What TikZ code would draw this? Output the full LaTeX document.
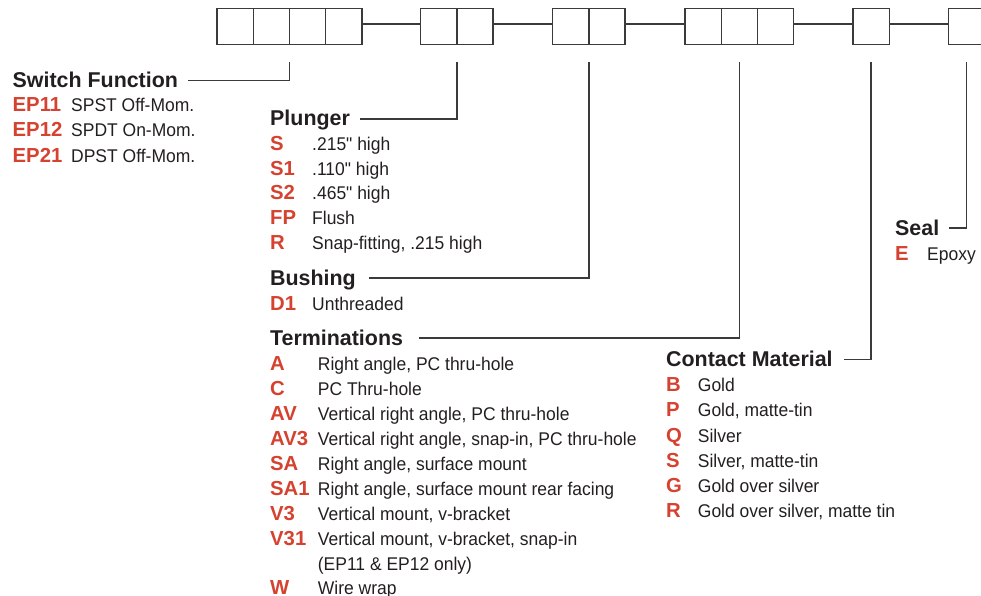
\documentclass[tikz,border=0pt]{standalone}
\usepackage{fontspec}
\setmainfont{Liberation Sans}
\newfontfamily\descfont{Liberation Sans}[FakeStretch=0.95, Ligatures=TeXOff]
\definecolor{ink}{RGB}{35,31,32}
\definecolor{codered}{RGB}{214,66,48}
\definecolor{linec}{RGB}{58,58,58}
\begin{document}
\begin{tikzpicture}[x=1pt,y=-1pt,
  box/.style={draw=linec, line width=1.4pt, minimum width=36.2pt, minimum height=35.6pt, inner sep=0pt, outer sep=0pt, anchor=north west},
  lead/.style={draw=linec, line width=1.3pt},
  head/.style={anchor=base west, inner sep=0pt, font=\fontsize{21.4}{24}\selectfont\bfseries, text=ink},
  code/.style={anchor=base west, inner sep=0pt, font=\fontsize{20.3}{24}\selectfont\bfseries, text=codered},
  desc/.style={anchor=base west, inner sep=0pt, font=\descfont\fontsize{18.4}{21}\selectfont, text=ink}]
\useasboundingbox (0,0) rectangle (981,596);

% ---- boxes ----
\node[box] (b1a) at (217,8.7) {};
\node[box] (b1b) at (b1a.north east) {};
\node[box] (b1c) at (b1b.north east) {};
\node[box] (b1d) at (b1c.north east) {};
\node[box] (b2a) at (420.7,8.7) {};
\node[box] (b2b) at (b2a.north east) {};
\node[box] (b3a) at (552.7,8.7) {};
\node[box] (b3b) at (b3a.north east) {};
\node[box] (b4a) at (685,8.7) {};
\node[box] (b4b) at (b4a.north east) {};
\node[box] (b4c) at (b4b.north east) {};
\node[box] (b5a) at (853,8.7) {};
\node[box] (b6a) at (948.5,8.7) {};

\draw[lead] ([yshift=2.5pt]b1d.east) -- ([yshift=2.5pt]b2a.west);
\draw[lead] ([yshift=2.5pt]b2b.east) -- ([yshift=2.5pt]b3a.west);
\draw[lead] ([yshift=2.5pt]b3b.east) -- ([yshift=2.5pt]b4a.west);
\draw[lead] ([yshift=2.5pt]b4c.east) -- ([yshift=2.5pt]b5a.west);
\draw[lead] ([yshift=2.5pt]b5a.east) -- ([yshift=2.5pt]b6a.west);

% leader start points
\coordinate (t1) at ([yshift=-17.7pt]b1b.south east);
\coordinate (t2) at ([yshift=-17.7pt]b2a.south east);
\coordinate (t3) at ([yshift=-17.7pt]b3a.south east);
\coordinate (t4) at ([yshift=-17.7pt]b4b.south);
\coordinate (t5) at ([yshift=-17.7pt]b5a.south);
\coordinate (t6) at ([yshift=-17.7pt]b6a.south);

% ---- headings ----
\node[head] (sf) at (12.5,87.3) {Switch Function};
\node[head] (pl) at (270,126) {Plunger};
\node[head] (bu) at (270,285) {Bushing};
\node[head] (te) at (270,345) {Terminations};
\node[head] (cm) at (666,366.7) {Contact Material};
\node[head] (se) at (895,235) {Seal};

\draw[lead] (t1) |- ([xshift=10pt,yshift=7pt]sf.base east);
\draw[lead] (t2) |- ([xshift=10pt,yshift=7pt]pl.base east);
\draw[lead] (t3) |- ([xshift=13pt,yshift=7pt]bu.base east);
\draw[lead] (t4) |- ([xshift=16pt,yshift=7pt]te.base east);
\draw[lead] (t5) |- ([xshift=11pt,yshift=7pt]cm.base east);
\draw[lead] (t6) |- ([xshift=10pt,yshift=7pt]se.base east);

% ---- Switch Function ----
\node[code] (sfc1) at (12.5,111.7) {EP11};
\node[desc] (sfd1) at (71,111.7) {SPST Off-Mom.};
\node[code] (sfc2) at (12.5,136.9) {EP12};
\node[desc] (sfd2) at (71,136.9) {SPDT On-Mom.};
\node[code] (sfc3) at (12.5,162.1) {EP21};
\node[desc] (sfd3) at (71,162.1) {DPST Off-Mom.};

% ---- Plunger ----
\node[code] (plc1) at (270,150.5) {S};
\node[desc] (pld1) at (312,150.5) {.215" high};
\node[code] (plc2) at (270,175.2) {S1};
\node[desc] (pld2) at (312,175.2) {.110" high};
\node[code] (plc3) at (270,199.9) {S2};
\node[desc] (pld3) at (312,199.9) {.465" high};
\node[code] (plc4) at (270,224.6) {FP};
\node[desc] (pld4) at (312,224.6) {Flush};
\node[code] (plc5) at (270,249.3) {R};
\node[desc] (pld5) at (312,249.3) {Snap-fitting, .215 high};

% ---- Bushing ----
\node[code] (buc1) at (270,310) {D1};
\node[desc] (bud1) at (312,310) {Unthreaded};

% ---- Terminations ----
\node[code] (tec1) at (270,370) {A};
\node[desc] (ted1) at (317.7,370) {Right angle, PC thru-hole};
\node[code] (tec2) at (270,395) {C};
\node[desc] (ted2) at (317.7,395) {PC Thru-hole};
\node[code] (tec3) at (270,420) {AV};
\node[desc] (ted3) at (317.7,420) {Vertical right angle, PC thru-hole};
\node[code] (tec4) at (270,445) {AV3};
\node[desc] (ted4) at (317.7,445) {Vertical right angle, snap-in, PC thru-hole};
\node[code] (tec5) at (270,470) {SA};
\node[desc] (ted5) at (317.7,470) {Right angle, surface mount};
\node[code] (tec6) at (270,495) {SA1};
\node[desc] (ted6) at (317.7,495) {Right angle, surface mount rear facing};
\node[code] (tec7) at (270,520) {V3};
\node[desc] (ted7) at (317.7,520) {Vertical mount, v-bracket};
\node[code] (tec8) at (270,545) {V31};
\node[desc] (ted8) at (317.7,545) {Vertical mount, v-bracket, snap-in};
\node[desc] (ted8b) at (317.7,570) {(EP11 \& EP12 only)};
\node[code] (tec9) at (270,594.5) {W};
\node[desc] (ted9) at (317.7,594.5) {Wire wrap};

% ---- Contact Material ----
\node[code] (cmc1) at (666,391.7) {B};
\node[desc] (cmd1) at (697.7,391.7) {Gold};
\node[code] (cmc2) at (666,416.9) {P};
\node[desc] (cmd2) at (697.7,416.9) {Gold, matte-tin};
\node[code] (cmc3) at (666,442.1) {Q};
\node[desc] (cmd3) at (697.7,442.1) {Silver};
\node[code] (cmc4) at (666,467.3) {S};
\node[desc] (cmd4) at (697.7,467.3) {Silver, matte-tin};
\node[code] (cmc5) at (666,492.5) {G};
\node[desc] (cmd5) at (697.7,492.5) {Gold over silver};
\node[code] (cmc6) at (666,517.7) {R};
\node[desc] (cmd6) at (697.7,517.7) {Gold over silver, matte tin};

% ---- Seal ----
\node[code] (sec1) at (895,260) {E};
\node[desc] (sed1) at (927,260) {Epoxy};
\end{tikzpicture}
\end{document}
